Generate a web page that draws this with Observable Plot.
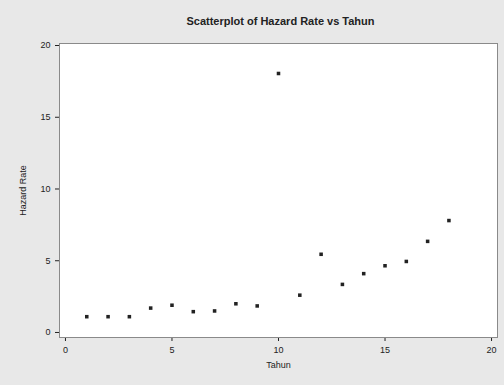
<!DOCTYPE html>
<html>
<head>
<meta charset="utf-8">
<script src="https://cdn.jsdelivr.net/npm/d3@7"></script>
<script src="https://cdn.jsdelivr.net/npm/@observablehq/plot@0.6"></script>
<style>
  html, body { margin: 0; padding: 0; background: #e8e8e8; }
</style>
</head>
<body>
<div id="chart"></div>
<script>
const title = "Scatterplot of Hazard Rate vs Tahun";
const xLabel = "Tahun";
const yLabel = "Hazard Rate";
const tahun = [1, 2, 3, 4, 5, 6, 7, 8, 9, 10, 11, 12, 13, 14, 15, 16, 17, 18];
const hazardRate = [1.1, 1.1, 1.1, 1.7, 1.9, 1.45, 1.5, 2.0, 1.85, 18.05, 2.6, 5.45, 3.35, 4.1, 4.65, 4.95, 6.35, 7.8];
const xTicks = [0, 5, 10, 15, 20];
const yTicks = [0, 5, 10, 15, 20];

const data = tahun.map((t, i) => ({tahun: t, rate: hazardRate[i]}));

const chart = Plot.plot({
  width: 504,
  height: 385,
  marginLeft: 59,
  marginRight: 7,
  marginTop: 43,
  marginBottom: 48,
  style: {background: "#e8e8e8", fontFamily: "Liberation Sans, Arial, sans-serif", fontSize: "9px", color: "#222"},
  x: {domain: [-0.28, 20.28], ticks: xTicks, tickSize: 4, label: xLabel, labelArrow: "none", labelAnchor: "center", labelOffset: 30},
  y: {domain: [-0.35, 20.14], ticks: yTicks, tickSize: 4, label: yLabel, labelArrow: "none", labelAnchor: "center", labelOffset: 40},
  marks: [
    Plot.frame({fill: "white", stroke: "#8a8a8a"}),
    Plot.dot(data, {x: "tahun", y: "rate", symbol: "square", r: 2, fill: "#222", stroke: "none"}),
    Plot.text([title], {frameAnchor: "top", dy: -26, fontSize: 11, fontWeight: 600, fill: "#222", dx: 2})
  ]
});
document.getElementById("chart").appendChild(chart);
</script>
</body>
</html>
